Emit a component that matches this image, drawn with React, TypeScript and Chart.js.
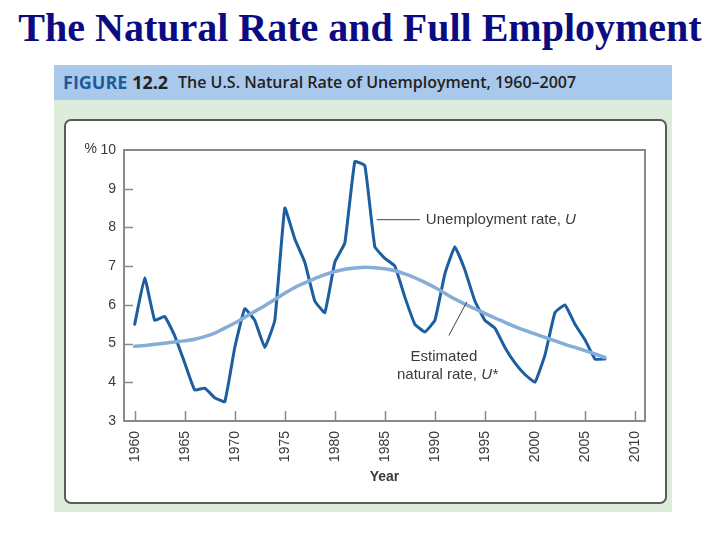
import React, { useEffect, useRef } from "react";
import { Chart, registerables } from "chart.js";

Chart.register(...registerables);

const years = [
  1960, 1961, 1962, 1963, 1964, 1965, 1966, 1967, 1968, 1969,
  1970, 1971, 1972, 1973, 1974, 1975, 1976, 1977, 1978, 1979,
  1980, 1981, 1982, 1983, 1984, 1985, 1986, 1987, 1988, 1989,
  1990, 1991, 1992, 1993, 1994, 1995, 1996, 1997, 1998, 1999,
  2000, 2001, 2002, 2003, 2004, 2005, 2006, 2007,
];

const unemployment = [
  5.5, 6.7, 5.6, 5.7, 5.2, 4.5, 3.8, 3.85, 3.6, 3.5,
  4.9, 5.9, 5.6, 4.9, 5.6, 8.5, 7.7, 7.1, 6.1, 5.8,
  7.1, 7.6, 9.7, 9.6, 7.5, 7.2, 7.0, 6.2, 5.5, 5.3,
  5.6, 6.8, 7.5, 6.9, 6.1, 5.6, 5.4, 4.9, 4.5, 4.2,
  4.0, 4.7, 5.8, 6.0, 5.5, 5.1, 4.6, 4.6,
];

const naturalRate = [
  4.93, 4.95, 4.98, 5.01, 5.04, 5.07, 5.11, 5.18, 5.27, 5.4,
  5.53, 5.68, 5.83, 5.98, 6.14, 6.3, 6.45, 6.57, 6.68, 6.78,
  6.86, 6.92, 6.95, 6.97, 6.96, 6.93, 6.88, 6.8, 6.7, 6.58,
  6.45, 6.3, 6.15, 6.02, 5.9, 5.78, 5.66, 5.55, 5.44, 5.34,
  5.25, 5.16, 5.07, 4.98, 4.9, 4.82, 4.73, 4.64,
];

const xTickValues = [1960, 1965, 1970, 1975, 1980, 1985, 1990, 1995, 2000, 2005, 2010];
const yTickValues = [3, 4, 5, 6, 7, 8, 9, 10];

const X_MIN = 1958.93;
const X_MAX = 2011;
const Y_MIN = 3;
const Y_MAX = 10;

const TEXT_COLOR = "#3a3a3a";
const AXIS_COLOR = "#8a8a8a";
const U_COLOR = "#1d5e9e";
const USTAR_COLOR = "#86acd8";
const SANS = '"Liberation Sans", Arial, sans-serif';

const decorPlugin = {
  id: "figureDecor",
  beforeDatasetsDraw(chart: any) {
    const { ctx, chartArea: a, scales } = chart;
    const xs = scales.x;
    const ys = scales.y;
    ctx.save();
    ctx.strokeStyle = AXIS_COLOR;
    ctx.lineWidth = 1.5;
    ctx.beginPath();
    yTickValues.forEach((v) => {
      if (v > Y_MIN && v < Y_MAX) {
        const py = Math.round(ys.getPixelForValue(v)) + 0.5;
        ctx.moveTo(a.left, py);
        ctx.lineTo(a.left + 9, py);
      }
    });
    xTickValues.forEach((v) => {
      const px = Math.round(xs.getPixelForValue(v)) + 0.5;
      ctx.moveTo(px, a.bottom);
      ctx.lineTo(px, a.bottom - 10);
    });
    ctx.stroke();
    ctx.lineWidth = 2;
    ctx.strokeRect(a.left, a.top, a.right - a.left, a.bottom - a.top);
    ctx.restore();
  },
  afterDatasetsDraw(chart: any) {
    const { ctx, chartArea: a, scales } = chart;
    const xs = scales.x;
    const ys = scales.y;
    const px = (v: number) => xs.getPixelForValue(v);
    const py = (v: number) => ys.getPixelForValue(v);
    const normal = "15px " + SANS;
    const italic = "italic 15px " + SANS;
    ctx.save();
    ctx.fillStyle = TEXT_COLOR;
    ctx.textBaseline = "middle";
    ctx.font = "14px " + SANS;
    ctx.textAlign = "right";
    ctx.fillText("%", a.left - 27, a.top - 1);

    // leader lines
    ctx.strokeStyle = "#444";
    ctx.lineWidth = 1;
    ctx.beginPath();
    ctx.moveTo(px(1984.2), py(8.2));
    ctx.lineTo(px(1988.5), py(8.2));
    ctx.moveTo(px(1993.2), py(6.08));
    ctx.lineTo(px(1991.4), py(5.21));
    ctx.stroke();

    // Unemployment rate, U
    ctx.textAlign = "left";
    const t1 = "Unemployment rate, ";
    let x0 = px(1989.1);
    const y0 = py(8.2);
    ctx.font = normal;
    ctx.fillText(t1, x0, y0);
    x0 += ctx.measureText(t1).width;
    ctx.font = italic;
    ctx.fillText("U", x0, y0);

    // Estimated natural rate, U*
    ctx.font = normal;
    ctx.textAlign = "center";
    ctx.fillText("Estimated", px(1990.9), py(4.66));
    const t2 = "natural rate, ";
    const t2w = ctx.measureText(t2).width;
    ctx.font = italic;
    const t3 = "U*";
    const t3w = ctx.measureText(t3).width;
    const cx = px(1991.25);
    const start = cx - (t2w + t3w) / 2;
    ctx.textAlign = "left";
    ctx.font = normal;
    ctx.fillText(t2, start, py(4.19));
    ctx.font = italic;
    ctx.fillText(t3, start + t2w, py(4.19));
    ctx.restore();
  },
};

export default function App() {
  const canvasRef = useRef<HTMLCanvasElement | null>(null);

  useEffect(() => {
    const canvas = canvasRef.current;
    if (!canvas) return;
    const chart = new Chart(canvas, {
      type: "line",
      data: {
        datasets: [
          {
            label: "Estimated natural rate, U*",
            data: years.map((yr, i) => ({ x: yr, y: naturalRate[i] })),
            borderColor: USTAR_COLOR,
            borderWidth: 3.5,
            pointRadius: 0,
            tension: 0.4,
            borderCapStyle: "round",
            borderJoinStyle: "round",
            fill: false,
          },
          {
            label: "Unemployment rate, U",
            data: years.map((yr, i) => ({ x: yr, y: unemployment[i] })),
            borderColor: U_COLOR,
            borderWidth: 3,
            pointRadius: 0,
            tension: 0.1,
            borderCapStyle: "round",
            borderJoinStyle: "round",
            fill: false,
          },
        ],
      },
      options: {
        animation: false,
        responsive: false,
        devicePixelRatio: 1,
        layout: { padding: { left: 0, right: 22, top: 31, bottom: 0 } },
        plugins: {
          legend: { display: false },
          tooltip: { enabled: false },
          title: { display: false },
        },
        scales: {
          x: {
            type: "linear",
            min: X_MIN,
            max: X_MAX,
            grid: { display: false, drawTicks: false },
            border: { display: false },
            afterBuildTicks: (scale: any) => {
              scale.ticks = xTickValues.map((v) => ({ value: v }));
            },
            afterFit: (scale: any) => {
              scale.height = 83;
            },
            ticks: {
              autoSkip: false,
              minRotation: 90,
              maxRotation: 90,
              padding: 10,
              color: TEXT_COLOR,
              font: { family: SANS, size: 14 },
              callback: (v: any) => String(v),
            },
            title: {
              display: true,
              text: "Year",
              color: TEXT_COLOR,
              font: { family: SANS, size: 14, weight: "bold" },
              padding: { top: 0, bottom: 18 },
            },
          },
          y: {
            type: "linear",
            min: Y_MIN,
            max: Y_MAX,
            grid: { display: false, drawTicks: false },
            border: { display: false },
            afterBuildTicks: (scale: any) => {
              scale.ticks = yTickValues.map((v) => ({ value: v }));
            },
            afterFit: (scale: any) => {
              scale.width = 60;
            },
            ticks: {
              padding: 8,
              color: TEXT_COLOR,
              font: { family: SANS, size: 14 },
              callback: (v: any) => String(v),
            },
          },
        },
      },
      plugins: [decorPlugin],
    } as any);
    return () => chart.destroy();
  }, []);

  return (
    <div style={{ position: "absolute", left: 0, top: 0, width: 720, height: 540, background: "#ffffff", overflow: "hidden" }}>
      <div
        style={{
          position: "absolute",
          left: 0,
          top: 8,
          width: 720,
          textAlign: "center",
          fontFamily: '"Liberation Serif", "Times New Roman", serif',
          fontWeight: "bold",
          fontSize: 40,
          lineHeight: "40px",
          color: "#0b0b82",
          whiteSpace: "nowrap",
        }}
      >
        The Natural Rate and Full Employment
      </div>
      <div style={{ position: "absolute", left: 54, top: 65, width: 618, height: 447, background: "#deeddb" }} />
      <div
        style={{
          position: "absolute",
          left: 54,
          top: 65,
          width: 618,
          height: 35,
          background: "#a9c9ec",
          fontFamily: '"Open Sans", "Noto Sans", sans-serif',
          fontSize: 16,
          lineHeight: "35px",
          whiteSpace: "nowrap",
          color: "#222222",
        }}
      >
        <span style={{ position: "absolute", left: 9, top: 0, color: "#1d5aa0", fontWeight: 700, fontSize: 18 }}>
          FIGURE <span style={{ color: "#222222" }}>12.2</span>
        </span>
        <span style={{ position: "absolute", left: 124, top: 0, fontWeight: 600 }}>
          The U.S. Natural Rate of Unemployment, 1960–2007
        </span>
      </div>
      <div
        style={{
          position: "absolute",
          left: 64,
          top: 119,
          width: 603,
          height: 385,
          boxSizing: "border-box",
          background: "#ffffff",
          border: "2px solid #5a5a5a",
          borderRadius: 7,
        }}
      />
      <canvas
        ref={canvasRef}
        width={603}
        height={385}
        style={{ position: "absolute", left: 64, top: 119, width: 603, height: 385 }}
      />
    </div>
  );
}
